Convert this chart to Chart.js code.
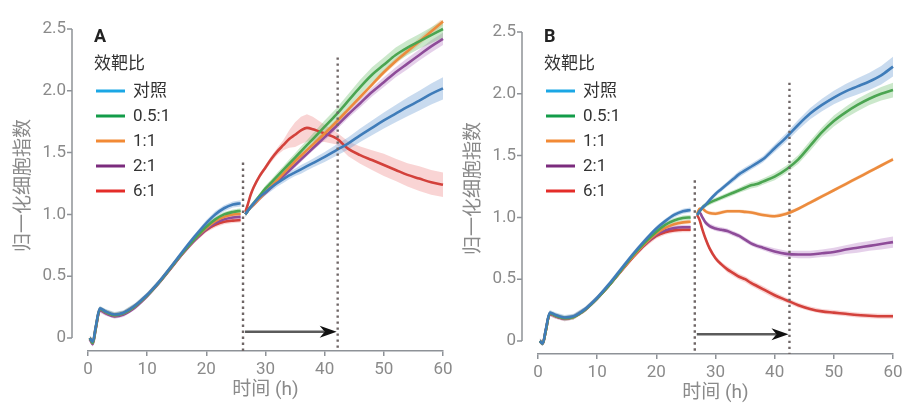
<!DOCTYPE html>
<html>
<head>
<meta charset="utf-8">
<script src="https://cdn.jsdelivr.net/npm/chart.js@4.4.1/dist/chart.umd.min.js"></script>
<style>
  html, body { margin: 0; padding: 0; background: #fff; overflow: hidden; }
  .panel { position: absolute; width: 460px; height: 404px; }
  #panelA { left: 0; top: 0; }
  #panelB { left: 450px; top: 3px; }
</style>
</head>
<body>
<div class="panel" id="panelA"><canvas id="chartA"></canvas></div>
<div class="panel" id="panelB"><canvas id="chartB"></canvas></div>
<script>
// ---- data -------------------------------------------------------------
const seriesNames = ['对照', '0.5:1', '1:1', '2:1', '6:1'];
const xTicks = [0, 10, 20, 30, 40, 50, 60];
const yTicks = [0, 0.5, 1, 1.5, 2, 2.5];

// panel A: hours (null row = medium change)
const timesA = [0.3, 0.8, 1.3, 2, 3, 4.5, 6, 8, 10, 12, 14, 16, 18, 20, 21.5, 23, 24.5, 25.8, 26.2,
  26.6, 27, 27.5, 28, 29, 30, 31, 32, 33, 34, 35, 36, 37, 38, 40, 42, 44, 46, 48, 50, 52, 54, 56, 58, 60];
const ctrlA = [0.00, -0.03, 0.09, 0.24, 0.215, 0.19, 0.205, 0.265, 0.35, 0.455, 0.575, 0.70, 0.82, 0.93, 1.00, 1.05, 1.08, 1.09, null,
  1.00, 1.03, 1.06, 1.09, 1.14, 1.18, 1.22, 1.255, 1.285, 1.315, 1.34, 1.365, 1.39, 1.415, 1.465, 1.52, 1.575, 1.64, 1.70, 1.76, 1.815, 1.87, 1.92, 1.975, 2.02];
const r05A = [0.00, -0.04, 0.08, 0.235, 0.21, 0.185, 0.20, 0.26, 0.345, 0.45, 0.57, 0.69, 0.80, 0.90, 0.96, 1.00, 1.02, 1.03, null,
  1.00, 1.03, 1.06, 1.09, 1.15, 1.21, 1.26, 1.31, 1.36, 1.41, 1.46, 1.51, 1.56, 1.61, 1.71, 1.81, 1.92, 2.03, 2.13, 2.21, 2.29, 2.35, 2.40, 2.45, 2.50];
const r1A = [0.00, -0.04, 0.08, 0.235, 0.21, 0.185, 0.20, 0.26, 0.345, 0.45, 0.57, 0.69, 0.80, 0.89, 0.945, 0.98, 1.00, 1.005, null,
  1.00, 1.03, 1.06, 1.08, 1.13, 1.18, 1.23, 1.28, 1.33, 1.38, 1.43, 1.475, 1.52, 1.565, 1.655, 1.75, 1.85, 1.95, 2.05, 2.15, 2.24, 2.32, 2.40, 2.48, 2.56];
const r2A = [-0.01, -0.05, 0.07, 0.225, 0.20, 0.175, 0.19, 0.25, 0.34, 0.445, 0.565, 0.685, 0.79, 0.88, 0.93, 0.96, 0.975, 0.98, null,
  1.00, 1.03, 1.06, 1.08, 1.13, 1.175, 1.22, 1.265, 1.31, 1.355, 1.40, 1.445, 1.49, 1.535, 1.625, 1.715, 1.81, 1.90, 1.99, 2.07, 2.15, 2.22, 2.29, 2.36, 2.42];
const r6A = [0.00, -0.04, 0.08, 0.23, 0.205, 0.185, 0.20, 0.26, 0.345, 0.45, 0.565, 0.685, 0.79, 0.875, 0.915, 0.94, 0.95, 0.955, null,
  1.02, 1.08, 1.16, 1.22, 1.31, 1.38, 1.45, 1.51, 1.56, 1.61, 1.645, 1.68, 1.70, 1.69, 1.655, 1.615, 1.53, 1.48, 1.44, 1.40, 1.36, 1.32, 1.29, 1.26, 1.24];
// half-width of the shaded band around each curve
const ctrlSdA = [0.02, 0.02, 0.02, 0.02, 0.02, 0.02, 0.02, 0.02, 0.02, 0.02, 0.02, 0.02, 0.02, 0.025, 0.025, 0.025, 0.025, 0.025, null,
  0.02, 0.02, 0.02, 0.02, 0.025, 0.025, 0.03, 0.03, 0.03, 0.03, 0.03, 0.035, 0.035, 0.035, 0.04, 0.045, 0.05, 0.055, 0.06, 0.065, 0.07, 0.075, 0.08, 0.085, 0.09];
const r05SdA = [0.02, 0.02, 0.02, 0.02, 0.02, 0.02, 0.02, 0.02, 0.02, 0.02, 0.02, 0.02, 0.02, 0.02, 0.02, 0.02, 0.02, 0.02, null,
  0.02, 0.02, 0.02, 0.02, 0.02, 0.025, 0.025, 0.03, 0.03, 0.035, 0.035, 0.04, 0.04, 0.045, 0.05, 0.05, 0.055, 0.06, 0.06, 0.06, 0.06, 0.06, 0.06, 0.065, 0.07];
const r1SdA = [0.02, 0.02, 0.02, 0.02, 0.02, 0.02, 0.02, 0.02, 0.02, 0.02, 0.02, 0.02, 0.02, 0.02, 0.02, 0.02, 0.02, 0.02, null,
  0.02, 0.02, 0.02, 0.02, 0.02, 0.02, 0.02, 0.02, 0.02, 0.02, 0.02, 0.02, 0.02, 0.02, 0.02, 0.02, 0.02, 0.02, 0.02, 0.02, 0.025, 0.025, 0.03, 0.03, 0.03];
const r2SdA = [0.02, 0.02, 0.02, 0.02, 0.02, 0.02, 0.02, 0.02, 0.02, 0.02, 0.02, 0.02, 0.02, 0.02, 0.02, 0.02, 0.02, 0.02, null,
  0.02, 0.02, 0.02, 0.02, 0.02, 0.02, 0.02, 0.02, 0.02, 0.02, 0.02, 0.02, 0.02, 0.02, 0.025, 0.03, 0.03, 0.035, 0.035, 0.04, 0.04, 0.045, 0.045, 0.05, 0.05];
const r6SdA = [0.02, 0.02, 0.02, 0.02, 0.02, 0.02, 0.02, 0.02, 0.02, 0.02, 0.02, 0.02, 0.02, 0.02, 0.02, 0.02, 0.02, 0.02, null,
  0.02, 0.02, 0.02, 0.02, 0.02, 0.02, 0.025, 0.03, 0.04, 0.07, 0.10, 0.11, 0.11, 0.10, 0.07, 0.05, 0.06, 0.07, 0.08, 0.09, 0.09, 0.095, 0.10, 0.10, 0.10];

// panel B
const timesB = [0.3, 0.8, 1.3, 2, 3, 4.5, 6, 8, 10, 12, 14, 16, 18, 20, 21.5, 23, 24.5, 25.8, 26.5,
  26.9, 27.3, 27.8, 28.3, 29, 30, 31, 32, 33, 34, 35, 36, 37, 38, 40, 42, 44, 46, 48, 50, 52, 54, 56, 58, 60];
const ctrlB = [0.00, -0.02, 0.09, 0.23, 0.21, 0.19, 0.20, 0.26, 0.35, 0.46, 0.58, 0.70, 0.81, 0.91, 0.97, 1.02, 1.05, 1.06, null,
  1.02, 1.05, 1.08, 1.10, 1.14, 1.19, 1.23, 1.27, 1.31, 1.35, 1.38, 1.41, 1.44, 1.47, 1.56, 1.65, 1.75, 1.84, 1.91, 1.97, 2.02, 2.06, 2.10, 2.15, 2.22];
const r05B = [0.00, -0.02, 0.08, 0.225, 0.205, 0.185, 0.195, 0.255, 0.345, 0.45, 0.57, 0.69, 0.795, 0.885, 0.94, 0.975, 0.995, 1.00, null,
  1.02, 1.05, 1.08, 1.10, 1.12, 1.14, 1.16, 1.18, 1.20, 1.22, 1.24, 1.26, 1.27, 1.29, 1.33, 1.39, 1.47, 1.58, 1.69, 1.78, 1.85, 1.91, 1.96, 2.00, 2.03];
const r1B = [0.00, -0.02, 0.08, 0.225, 0.205, 0.185, 0.195, 0.255, 0.345, 0.45, 0.565, 0.68, 0.785, 0.87, 0.915, 0.945, 0.96, 0.965, null,
  1.03, 1.07, 1.07, 1.05, 1.035, 1.03, 1.04, 1.05, 1.05, 1.05, 1.045, 1.04, 1.03, 1.02, 1.01, 1.03, 1.07, 1.12, 1.17, 1.22, 1.27, 1.32, 1.37, 1.42, 1.47];
const r2B = [0.00, -0.02, 0.08, 0.22, 0.20, 0.18, 0.195, 0.255, 0.345, 0.45, 0.565, 0.68, 0.78, 0.86, 0.895, 0.915, 0.92, 0.92, null,
  1.03, 1.04, 1.00, 0.96, 0.93, 0.91, 0.90, 0.89, 0.87, 0.85, 0.82, 0.79, 0.77, 0.755, 0.725, 0.705, 0.70, 0.70, 0.71, 0.72, 0.74, 0.755, 0.77, 0.785, 0.80];
const r6B = [0.00, -0.02, 0.08, 0.22, 0.20, 0.18, 0.195, 0.255, 0.345, 0.45, 0.565, 0.675, 0.775, 0.85, 0.88, 0.895, 0.90, 0.90, null,
  1.02, 0.98, 0.90, 0.83, 0.75, 0.67, 0.62, 0.58, 0.55, 0.52, 0.50, 0.47, 0.445, 0.42, 0.37, 0.33, 0.29, 0.26, 0.24, 0.23, 0.22, 0.21, 0.205, 0.20, 0.20];
const ctrlSdB = [0.02, 0.02, 0.02, 0.02, 0.02, 0.02, 0.02, 0.02, 0.02, 0.02, 0.02, 0.02, 0.02, 0.02, 0.02, 0.02, 0.02, 0.02, null,
  0.02, 0.02, 0.02, 0.02, 0.02, 0.02, 0.02, 0.02, 0.025, 0.025, 0.025, 0.025, 0.025, 0.025, 0.03, 0.035, 0.04, 0.045, 0.05, 0.055, 0.06, 0.065, 0.07, 0.075, 0.08];
const r05SdB = [0.02, 0.02, 0.02, 0.02, 0.02, 0.02, 0.02, 0.02, 0.02, 0.02, 0.02, 0.02, 0.02, 0.02, 0.02, 0.02, 0.02, 0.02, null,
  0.02, 0.02, 0.02, 0.02, 0.02, 0.02, 0.02, 0.02, 0.02, 0.02, 0.025, 0.025, 0.025, 0.025, 0.03, 0.03, 0.035, 0.04, 0.04, 0.045, 0.045, 0.05, 0.05, 0.055, 0.06];
const r1SdB = [0.015, 0.015, 0.015, 0.015, 0.015, 0.015, 0.015, 0.015, 0.015, 0.015, 0.015, 0.015, 0.015, 0.015, 0.015, 0.015, 0.015, 0.015, null,
  0.015, 0.015, 0.015, 0.015, 0.015, 0.015, 0.015, 0.015, 0.015, 0.015, 0.015, 0.015, 0.015, 0.015, 0.015, 0.015, 0.015, 0.015, 0.015, 0.015, 0.015, 0.015, 0.015, 0.015, 0.015];
const r2SdB = [0.02, 0.02, 0.02, 0.02, 0.02, 0.02, 0.02, 0.02, 0.02, 0.02, 0.02, 0.02, 0.02, 0.02, 0.02, 0.02, 0.02, 0.02, null,
  0.02, 0.02, 0.02, 0.02, 0.02, 0.02, 0.02, 0.02, 0.02, 0.02, 0.02, 0.02, 0.02, 0.02, 0.025, 0.025, 0.03, 0.03, 0.03, 0.035, 0.035, 0.04, 0.04, 0.045, 0.045];
const r6SdB = [0.02, 0.02, 0.02, 0.02, 0.02, 0.02, 0.02, 0.02, 0.02, 0.02, 0.02, 0.02, 0.02, 0.02, 0.02, 0.02, 0.02, 0.02, null,
  0.02, 0.02, 0.02, 0.02, 0.02, 0.02, 0.02, 0.025, 0.025, 0.025, 0.025, 0.025, 0.025, 0.025, 0.025, 0.02, 0.02, 0.02, 0.02, 0.02, 0.02, 0.02, 0.02, 0.02, 0.02];

// medium change / readout markers (hours) and where their dotted lines start
const cutsA = [{ t: 26.2, top: 1.42 }, { t: 42.2, top: 2.27 }];
const cutsB = [{ t: 26.5, top: 1.30 }, { t: 42.5, top: 2.09 }];

// ---- styling ----------------------------------------------------------
const lineColors = ['#3f7cb9', '#4ba551', '#ec8b3d', '#8e4c99', '#d3413b'];
const bandColors = ['rgba(112,160,212,0.38)', 'rgba(112,192,112,0.36)', 'rgba(244,166,104,0.34)',
  'rgba(178,118,192,0.34)', 'rgba(238,128,128,0.34)'];
const keyColors = ['#1ba7e5', '#139c49', '#f28a35', '#7b2b7d', '#e42c29'];
const axisColor = '#8e9297';
const labelColor = '#8a8a8a';
const FONT = "Roboto, 'Noto Sans CJK SC', sans-serif";

Chart.defaults.font.family = FONT;
Chart.defaults.font.size = 17;
Chart.defaults.color = labelColor;

function points(times, vals, sd, sign) {
  return times.map((t, i) => ({ x: t, y: vals[i] == null ? null : vals[i] + sign * sd[i] }));
}

function buildDatasets(times, curves, sds) {
  const bands = [];
  const lines = [];
  curves.forEach((vals, k) => {
    const base = { pointRadius: 0, borderWidth: 0, clip: false, spanGaps: false };
    bands.push({ ...base, data: points(times, vals, sds[k], -1), fill: false });
    bands.push({ ...base, data: points(times, vals, sds[k], 1), fill: '-1', backgroundColor: bandColors[k] });
    lines.push({
      label: seriesNames[k], data: points(times, vals, sds[k], 0),
      borderColor: lineColors[k], borderWidth: 2.6, pointRadius: 0, fill: false,
      cubicInterpolationMode: 'monotone', clip: false, spanGaps: false
    });
  });
  return lines.concat(bands);
}

// axis line for y, dotted markers, arrow, panel letter and key
const panelDecor = {
  id: 'panelDecor',
  afterDraw(chart, args, opts) {
    const { ctx, chartArea, scales: { x, y } } = chart;
    const { left, top, bottom } = chartArea;
    ctx.save();

    const ax = left - 16;
    ctx.strokeStyle = axisColor;
    ctx.lineWidth = 1.5;
    ctx.beginPath();
    ctx.moveTo(ax, y.getPixelForValue(0));
    ctx.lineTo(ax, y.getPixelForValue(2.5));
    yTicks.forEach(v => {
      const py = y.getPixelForValue(v);
      ctx.moveTo(ax - 5, py);
      ctx.lineTo(ax, py);
    });
    ctx.stroke();

    ctx.strokeStyle = '#6f6666';
    ctx.lineWidth = 2.4;
    ctx.setLineDash([2.4, 3.6]);
    opts.cuts.forEach(c => {
      const px = x.getPixelForValue(c.t);
      ctx.beginPath();
      ctx.moveTo(px, y.getPixelForValue(c.top));
      ctx.lineTo(px, bottom);
      ctx.stroke();
    });
    ctx.setLineDash([]);

    const x0 = x.getPixelForValue(opts.cuts[0].t) + 2;
    const x1 = x.getPixelForValue(opts.cuts[1].t) - 1;
    const ay = y.getPixelForValue(opts.arrowAt);
    ctx.strokeStyle = '#5b5b5b';
    ctx.lineWidth = 2.5;
    ctx.beginPath();
    ctx.moveTo(x0, ay);
    ctx.lineTo(x1 - 12, ay);
    ctx.stroke();
    ctx.fillStyle = '#111';
    ctx.beginPath();
    ctx.moveTo(x1, ay);
    ctx.lineTo(x1 - 17, ay - 6);
    ctx.lineTo(x1 - 12, ay);
    ctx.lineTo(x1 - 17, ay + 6);
    ctx.closePath();
    ctx.fill();

    const s = opts.shift;
    ctx.textBaseline = 'middle';
    ctx.textAlign = 'left';
    ctx.fillStyle = '#222';
    ctx.font = 'bold 18px ' + FONT;
    ctx.fillText(opts.letter, left + 6, top + 17 + s);
    ctx.fillStyle = '#333';
    ctx.font = '17px ' + FONT;
    ctx.fillText('效靶比', left + 6, top + 45 + s);
    seriesNames.forEach((name, i) => {
      const ry = top + 71 + s + i * 25;
      ctx.fillStyle = keyColors[i];
      ctx.fillRect(left + 8, ry - 1.5, 29, 3);
      ctx.fillStyle = '#333';
      ctx.fillText(name, left + 45, ry + 1);
    });
    ctx.restore();
  }
};

function makeChart(id, times, curves, sds, decor) {
  return new Chart(document.getElementById(id), {
    type: 'line',
    data: { datasets: buildDatasets(times, curves, sds) },
    plugins: [panelDecor],
    options: {
      responsive: true,
      maintainAspectRatio: false,
      animation: false,
      parsing: false,
      layout: { padding: { left: 0, right: 17, top: 20, bottom: 0 } },
      plugins: {
        legend: { display: false },
        tooltip: { enabled: false },
        filler: { drawTime: 'beforeDatasetsDraw' },
        panelDecor: decor
      },
      scales: {
        x: {
          type: 'linear', min: 0, max: 60,
          afterBuildTicks: s => { s.ticks = xTicks.map(v => ({ value: v })); },
          afterFit: s => { s.height = 53; s.paddingLeft = 0; s.paddingRight = 0; },
          grid: { display: true, drawOnChartArea: false, drawTicks: true, tickLength: 5, color: axisColor, lineWidth: 1.5 },
          border: { display: true, color: axisColor, width: 1.5 },
          ticks: { padding: 4, color: labelColor, maxRotation: 0 },
          title: { display: true, text: '时间 (h)', color: labelColor, font: { size: 19 }, padding: { top: 0, bottom: 2 } }
        },
        y: {
          type: 'linear', min: -0.105, max: 2.573,
          afterBuildTicks: s => { s.ticks = yTicks.map(v => ({ value: v })); },
          afterFit: s => { s.width = 88; s.paddingTop = 0; s.paddingBottom = 0; },
          grid: { display: false, drawTicks: false },
          border: { display: false },
          ticks: { padding: 22, color: labelColor, callback: v => v === 0 ? '0' : v.toFixed(1) },
          title: { display: true, text: '归一化细胞指数', color: labelColor, font: { size: 19 }, padding: { top: 13, bottom: 0 } }
        }
      }
    }
  });
}

makeChart('chartA', timesA, [ctrlA, r05A, r1A, r2A, r6A], [ctrlSdA, r05SdA, r1SdA, r2SdA, r6SdA],
  { letter: 'A', cuts: cutsA, arrowAt: 0.05, shift: 0 });
makeChart('chartB', timesB, [ctrlB, r05B, r1B, r2B, r6B], [ctrlSdB, r05SdB, r1SdB, r2SdB, r6SdB],
  { letter: 'B', cuts: cutsB, arrowAt: 0.054, shift: -3 });
</script>
</body>
</html>
